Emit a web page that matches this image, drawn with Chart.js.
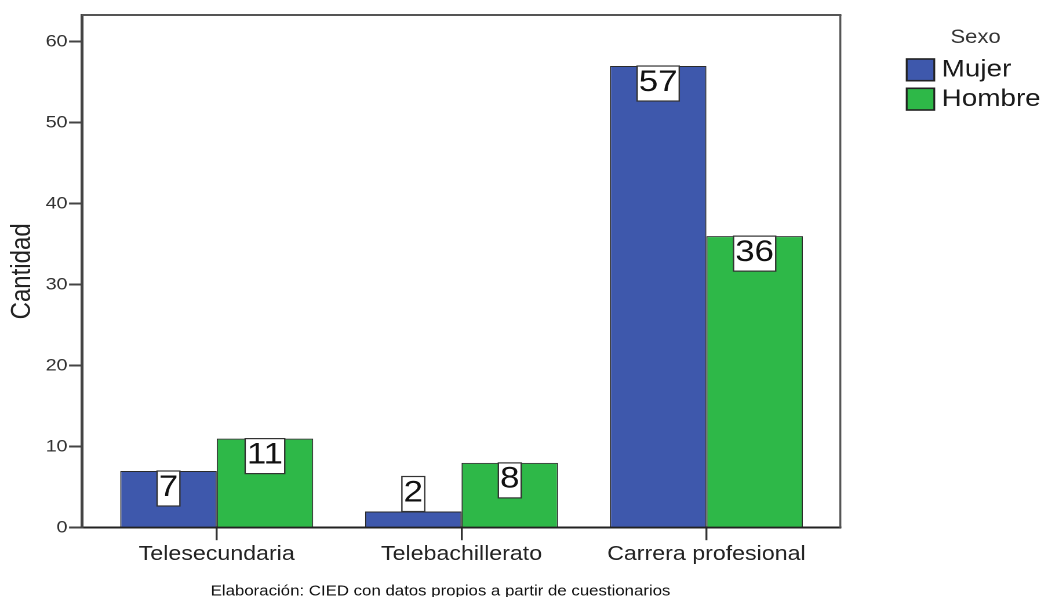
<!DOCTYPE html>
<html><head><meta charset="utf-8">
<script src="https://cdn.jsdelivr.net/npm/chart.js@4/dist/chart.umd.min.js"></script>
<style>
html,body{margin:0;padding:0;background:#fff;overflow:hidden;}
#wrap{position:absolute;left:0;top:0;width:904px;height:597px;transform:scaleX(1.159292);transform-origin:0 0;}
canvas{display:block;}
</style></head><body>
<div id="wrap"><canvas id="c" width="904" height="597"></canvas></div>
<script>
// ---- data ----
const categories = ['Telesecundaria', 'Telebachillerato', 'Carrera profesional'];
const seriesLabels = ['Mujer', 'Hombre'];
const mujer = [7, 2, 57];
const hombre = [11, 8, 36];
const yTicks = [0, 10, 20, 30, 40, 50, 60];
const legendTitle = 'Sexo';
const yTitle = 'Cantidad';
const footerText = 'Elaboración: CIED con datos propios a partir de cuestionarios';
const seriesColors = ['#3E58AC', '#2EB848'];

const FONT = "'Liberation Sans', Arial, Helvetica, sans-serif";
Chart.defaults.font.family = FONT;
Chart.defaults.color = '#222';

const framePlugin = {
  id: 'frame',
  afterDraw(chart) {
    const {ctx, chartArea: a} = chart;
    ctx.save();
    ctx.strokeStyle = '#555';
    ctx.lineWidth = 2;
    ctx.beginPath(); ctx.moveTo(a.left, a.top); ctx.lineTo(a.right + 0.9, a.top); ctx.stroke();
    ctx.lineWidth = 1.7;
    ctx.beginPath(); ctx.moveTo(a.right, a.top); ctx.lineTo(a.right, a.bottom); ctx.stroke();
    ctx.restore();
  }
};

const valueLabels = {
  id: 'valueLabels',
  afterDatasetsDraw(chart) {
    const ctx = chart.ctx;
    ctx.save();
    ctx.font = '30px ' + FONT;
    ctx.textAlign = 'center';
    ctx.textBaseline = 'middle';
    chart.data.datasets.forEach((ds, di) => {
      chart.getDatasetMeta(di).data.forEach((bar, i) => {
        const txt = String(ds.data[i].y);
        const w = ctx.measureText(txt).width + 3;
        const h = 35;
        const top = (bar.base - bar.y >= h) ? bar.y : bar.y - h;
        ctx.fillStyle = '#fff';
        ctx.fillRect(bar.x - w / 2, top, w, h);
        ctx.strokeStyle = '#333';
        ctx.lineWidth = 1.2;
        ctx.strokeRect(bar.x - w / 2, top, w, h);
        ctx.fillStyle = '#111';
        ctx.fillText(txt, bar.x, top + h / 2 - 1);
      });
    });
    ctx.restore();
  }
};

const sideLegend = {
  id: 'sideLegend',
  afterDraw(chart) {
    const ctx = chart.ctx;
    ctx.save();
    ctx.fillStyle = '#333';
    ctx.font = '19px ' + FONT;
    ctx.textAlign = 'center';
    ctx.textBaseline = 'alphabetic';
    ctx.fillText(legendTitle, 841.5, 43);
    ctx.font = '24px ' + FONT;
    ctx.textAlign = 'left';
    ctx.textBaseline = 'middle';
    chart.data.datasets.forEach((ds, i) => {
      const y = 59 + i * 29.3;
      ctx.fillStyle = ds.backgroundColor;
      ctx.fillRect(782.1, y, 23.8, 21.7);
      ctx.strokeStyle = '#222';
      ctx.lineWidth = 1.6;
      ctx.strokeRect(782.1, y, 23.8, 21.7);
      ctx.fillStyle = '#1a1a1a';
      ctx.fillText(ds.label, 812.3, y + 11);
    });
    ctx.restore();
  }
};

const footer = {
  id: 'footer',
  afterDraw(chart) {
    const ctx = chart.ctx;
    ctx.save();
    ctx.fillStyle = '#111';
    ctx.font = '14.5px ' + FONT;
    ctx.textAlign = 'center';
    ctx.textBaseline = 'alphabetic';
    ctx.fillText(footerText, 380, 595.5);
    ctx.restore();
  }
};

new Chart(document.getElementById('c'), {
  type: 'bar',
  data: {
    datasets: [
      { label: seriesLabels[0], data: categories.map((c, i) => ({x: i, y: mujer[i]})),
        backgroundColor: seriesColors[0], borderColor: '#2a2a2a', borderWidth: 1,
        categoryPercentage: 0.788, barPercentage: 1 },
      { label: seriesLabels[1], data: categories.map((c, i) => ({x: i, y: hombre[i]})),
        backgroundColor: seriesColors[1], borderColor: '#2a2a2a', borderWidth: 1,
        categoryPercentage: 0.788, barPercentage: 1 }
    ]
  },
  options: {
    responsive: false,
    devicePixelRatio: 2,
    animation: false,
    layout: { padding: { left: 0, top: 15, right: 179.15, bottom: 9.3 }, autoPadding: false },
    plugins: { legend: { display: false }, tooltip: { enabled: false } },
    scales: {
      x: {
        type: 'linear', min: -0.551, max: 2.547, offset: false,
        afterBuildTicks: s => { s.ticks = categories.map((c, i) => ({value: i})); },
        afterFit: s => { s.height = 60; },
        ticks: { callback: v => categories[v], font: { size: 20 }, padding: 2.5, color: '#222', autoSkip: false, maxRotation: 0 },
        grid: { offset: false, drawOnChartArea: false, drawTicks: true, tickLength: 12.5, color: '#333', lineWidth: 1.7 },
        border: { display: true, color: '#222', width: 2 }
      },
      y: {
        min: 0, max: 63.3,
        afterBuildTicks: s => { s.ticks = yTicks.map(v => ({value: v})); },
        afterFit: s => { s.width = 70.56; },
        ticks: { font: { size: 17 }, padding: 1.3, color: '#333' },
        grid: { drawOnChartArea: false, drawTicks: true, tickLength: 11, color: '#444', lineWidth: 2 },
        border: { display: true, color: '#444', width: 2.5 },
        title: { display: true, text: yTitle, font: { size: 24, lineHeight: 1 }, padding: { top: 7.6, bottom: 0 }, color: '#222' }
      }
    }
  },
  plugins: [framePlugin, valueLabels, sideLegend, footer]
});
</script>
</body></html>
